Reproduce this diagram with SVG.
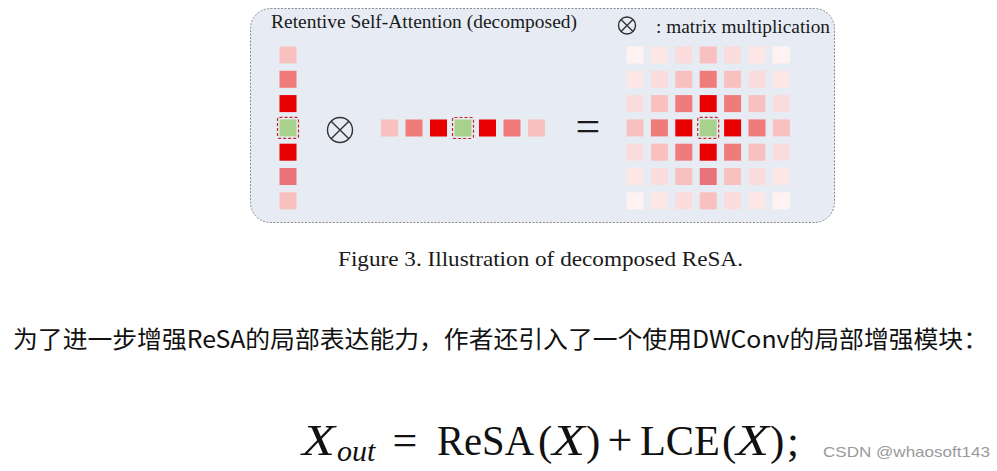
<svg xmlns="http://www.w3.org/2000/svg" width="997" height="471" viewBox="0 0 997 471">
<style>
.serif{font-family:"Liberation Serif","Times New Roman",serif;fill:#1a1a1a}
.c1{fill:#f9c0c0}.c2{fill:#f07b7b}.c3{fill:#e60000}.c4{fill:#e8727a}
.d1{fill:#fbdcdc}.d2{fill:#fde6e6}.d3{fill:#fef2f2}
.g{fill:#a9d18e}
.sel{fill:none;stroke:#cc2222;stroke-width:1.2;stroke-dasharray:3 2}
.sym{fill:none;stroke:#333;stroke-width:1.4}
.math{font-family:"Liberation Serif","Times New Roman",serif;fill:#111}
</style>
<defs>
<rect id="s" x="-8.5" y="-8.5" width="17" height="17"/>
<rect id="sl" x="-10.5" y="-10.5" width="21" height="21" rx="2"/>
</defs>
<rect width="997" height="471" fill="#fff"/>
<g id="panel">
<rect x="250.5" y="8.5" width="584" height="214" rx="20" fill="#e7ecf4" stroke="#8a8a8a" stroke-width="1" stroke-dasharray="2 1.5"/>
<text class="serif" x="271" y="28" font-size="19" textLength="306" lengthAdjust="spacingAndGlyphs">Retentive Self-Attention (decomposed)</text>
</g>
<g id="legend">
<circle class="sym" cx="627" cy="25.5" r="8.5"/>
<path class="sym" d="M621 19.5 L633 31.5 M633 19.5 L621 31.5"/>
<text class="serif" x="656" y="33" font-size="19" textLength="174" lengthAdjust="spacingAndGlyphs">: matrix multiplication</text>
</g>
<g id="column">
<use href="#s" class="c1" x="288" y="55"/>
<use href="#s" class="c2" x="288" y="79.3"/>
<use href="#s" class="c3" x="288" y="103.6"/>
<use href="#s" class="g" x="288" y="127.9"/>
<use href="#sl" class="sel" x="288" y="127.9"/>
<use href="#s" class="c3" x="288" y="152.2"/>
<use href="#s" class="c4" x="288" y="176.5"/>
<use href="#s" class="c1" x="288" y="200.8"/>
</g>
<g id="otimes-op">
<circle class="sym" cx="340" cy="130" r="12.5"/>
<path class="sym" d="M331.2 121.2 L348.8 138.8 M348.8 121.2 L331.2 138.8"/>
</g>
<g id="row">
<use href="#s" class="c1" x="389.5" y="128"/>
<use href="#s" class="c2" x="414" y="128"/>
<use href="#s" class="c3" x="438.5" y="128"/>
<use href="#s" class="g" x="463" y="128"/>
<use href="#sl" class="sel" x="463" y="128"/>
<use href="#s" class="c3" x="487.5" y="128"/>
<use href="#s" class="c2" x="512" y="128"/>
<use href="#s" class="c1" x="536.5" y="128"/>
</g>
<g id="equals">
<text class="serif" x="588" y="141" font-size="44" text-anchor="middle" fill="#333">=</text>
</g>
<g id="grid">
<use href="#s" class="d3" x="635" y="55"/><use href="#s" class="d2" x="659.4" y="55"/><use href="#s" class="d1" x="683.8" y="55"/><use href="#s" class="c1" x="708.2" y="55"/><use href="#s" class="d1" x="732.6" y="55"/><use href="#s" class="d2" x="757" y="55"/><use href="#s" class="d3" x="781.4" y="55"/>
<use href="#s" class="d2" x="635" y="79.3"/><use href="#s" class="d1" x="659.4" y="79.3"/><use href="#s" class="c1" x="683.8" y="79.3"/><use href="#s" class="c2" x="708.2" y="79.3"/><use href="#s" class="c1" x="732.6" y="79.3"/><use href="#s" class="d1" x="757" y="79.3"/><use href="#s" class="d2" x="781.4" y="79.3"/>
<use href="#s" class="d1" x="635" y="103.6"/><use href="#s" class="c1" x="659.4" y="103.6"/><use href="#s" class="c2" x="683.8" y="103.6"/><use href="#s" class="c3" x="708.2" y="103.6"/><use href="#s" class="c2" x="732.6" y="103.6"/><use href="#s" class="c1" x="757" y="103.6"/><use href="#s" class="d1" x="781.4" y="103.6"/>
<use href="#s" class="c1" x="635" y="127.9"/><use href="#s" class="c2" x="659.4" y="127.9"/><use href="#s" class="c3" x="683.8" y="127.9"/><use href="#s" class="g" x="708.2" y="127.9"/><use href="#sl" class="sel" x="708.2" y="127.9"/><use href="#s" class="c3" x="732.6" y="127.9"/><use href="#s" class="c2" x="757" y="127.9"/><use href="#s" class="c1" x="781.4" y="127.9"/>
<use href="#s" class="d1" x="635" y="152.2"/><use href="#s" class="c1" x="659.4" y="152.2"/><use href="#s" class="c2" x="683.8" y="152.2"/><use href="#s" class="c3" x="708.2" y="152.2"/><use href="#s" class="c2" x="732.6" y="152.2"/><use href="#s" class="c1" x="757" y="152.2"/><use href="#s" class="d1" x="781.4" y="152.2"/>
<use href="#s" class="d2" x="635" y="176.5"/><use href="#s" class="d1" x="659.4" y="176.5"/><use href="#s" class="c1" x="683.8" y="176.5"/><use href="#s" class="c4" x="708.2" y="176.5"/><use href="#s" class="c1" x="732.6" y="176.5"/><use href="#s" class="d1" x="757" y="176.5"/><use href="#s" class="d2" x="781.4" y="176.5"/>
<use href="#s" class="d3" x="635" y="200.8"/><use href="#s" class="d2" x="659.4" y="200.8"/><use href="#s" class="d1" x="683.8" y="200.8"/><use href="#s" class="c1" x="708.2" y="200.8"/><use href="#s" class="d1" x="732.6" y="200.8"/><use href="#s" class="d2" x="757" y="200.8"/><use href="#s" class="d3" x="781.4" y="200.8"/>
</g>
<g id="caption">
<text class="serif" x="338" y="266" font-size="22" textLength="405" lengthAdjust="spacingAndGlyphs">Figure 3. Illustration of decomposed ReSA.</text>
</g>
<g id="paragraph">
<text x="13" y="348" font-size="24" font-family="'Noto Sans CJK SC','Noto Sans',sans-serif" fill="#111" textLength="975" lengthAdjust="spacingAndGlyphs">为了进一步增强ReSA的局部表达能力，作者还引入了一个使用DWConv的局部增强模块：</text>
</g>
<g id="equation" class="math">
<text x="302" y="455" font-size="44" font-style="italic" textLength="33" lengthAdjust="spacingAndGlyphs">X</text>
<text x="337" y="461" font-size="30" font-style="italic">out</text>
<text x="405" y="455" font-size="44" text-anchor="middle">=</text>
<text x="437" y="455" font-size="43" textLength="97" lengthAdjust="spacingAndGlyphs">ReSA</text>
<text x="538" y="455" font-size="43">(</text>
<text x="552" y="455" font-size="44" font-style="italic" textLength="33" lengthAdjust="spacingAndGlyphs">X</text>
<text x="586" y="455" font-size="43">)</text>
<text x="620" y="455" font-size="44" text-anchor="middle">+</text>
<text x="640" y="455" font-size="43" textLength="80" lengthAdjust="spacingAndGlyphs">LCE</text>
<text x="722" y="455" font-size="43">(</text>
<text x="736" y="455" font-size="44" font-style="italic" textLength="33" lengthAdjust="spacingAndGlyphs">X</text>
<text x="770" y="455" font-size="43">)</text>
<text x="787" y="455" font-size="43">;</text>
</g>
<g id="watermark">
<text x="823" y="457" font-size="15" font-family="'Liberation Sans',Arial,sans-serif" fill="#9a9a9a" textLength="167" lengthAdjust="spacingAndGlyphs">CSDN @whaosoft143</text>
</g>
</svg>
